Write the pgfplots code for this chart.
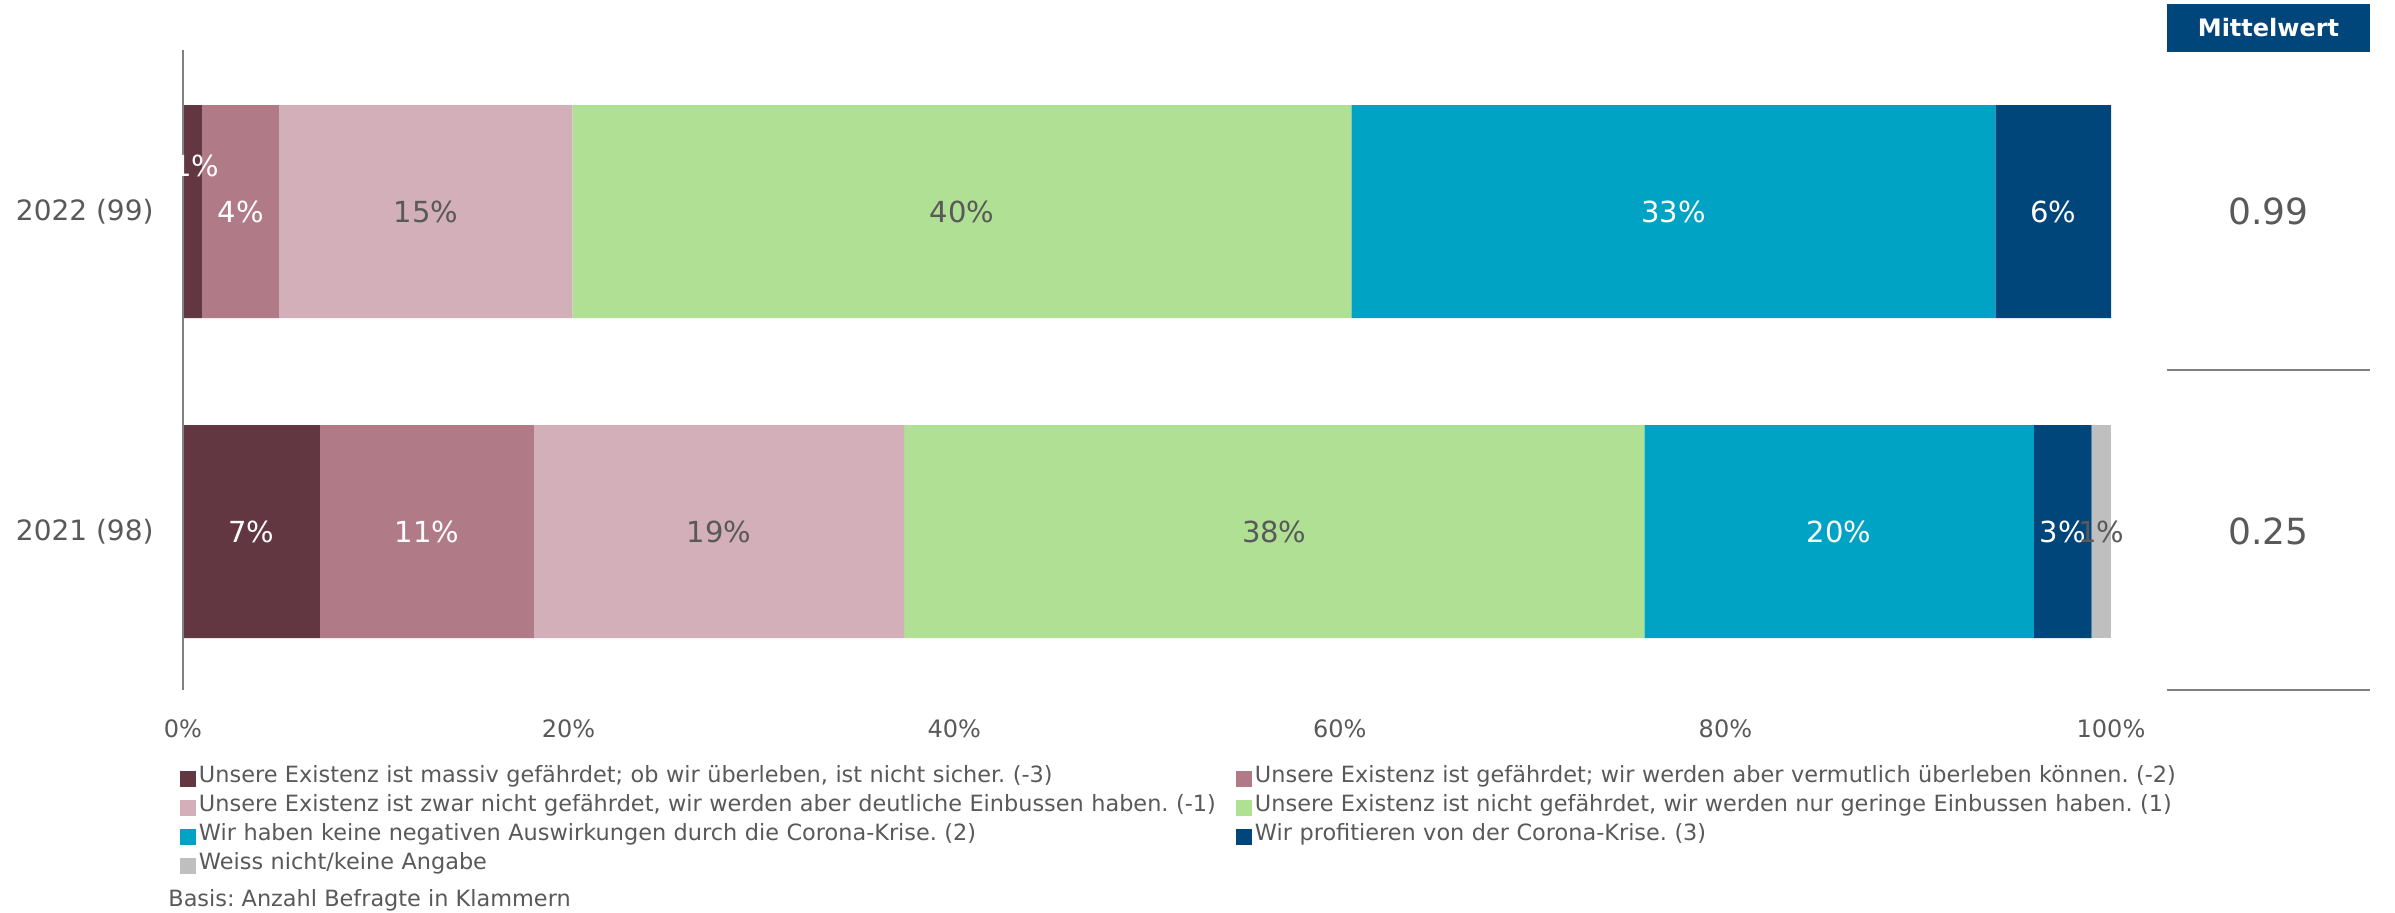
\documentclass[border=0pt]{standalone}
\usepackage{pgfplots}
\pgfplotsset{compat=1.18}
\usepackage{fontspec}
\setmainfont{DejaVu Sans}
\frenchspacing
\definecolor{c1}{HTML}{633742}
\definecolor{c2}{HTML}{B07B87}
\definecolor{c3}{HTML}{D3AFB9}
\definecolor{c4}{HTML}{B0E093}
\definecolor{c5}{HTML}{00A3C4}
\definecolor{c6}{HTML}{00467B}
\definecolor{c7}{HTML}{BFBFBF}
\definecolor{tg}{HTML}{595959}
\definecolor{ax}{HTML}{808080}
\newcommand\lbl{\fontsize{14.5}{16}\selectfont}
\begin{document}
\begin{tikzpicture}
\useasboundingbox (-91.5pt,-111.5pt) rectangle (1106pt,345pt);
\begin{axis}[
  scale only axis, width=964pt, height=320pt,
  xbar stacked, bar width=106.5pt,
  xmin=0, xmax=100, ymin=-0.495, ymax=1.505,
  separate axis lines,
  axis x line*=bottom, axis y line*=left,
  x axis line style={draw=none},
  y axis line style={draw=ax, line width=1pt},
  major tick length=0pt,
  ytick={0,1}, yticklabels={2021 (98),2022 (99)},
  xtick={0,20,40,60,80,100}, xticklabels={0\%,20\%,40\%,60\%,80\%,100\%},
  yticklabel style={anchor=east, inner sep=0pt, xshift=-14.5pt, font=\fontsize{14}{16}\selectfont, text=tg},
  xticklabel style={anchor=center, inner sep=0pt, yshift=-19.5pt, font=\fontsize{12}{14}\selectfont, text=tg},
  legend columns=2,
  legend cell align=left,
  legend style={draw=none, fill=none, at={(0,0)}, anchor=north west, xshift=-1.5pt, yshift=-37.25pt, inner sep=0pt, outer sep=0pt, column sep=0pt, row sep=0pt, font=\fontsize{11.2}{13}\selectfont, text=tg, nodes={inner xsep=1.5pt, inner ysep=0pt, text height=9pt, text depth=5.5pt, text width=517pt, align=left}},
  every axis plot post/.append style={/pgfplots/legend image code/.code={\fill[##1] (0pt,-4pt) rectangle (8pt,4pt);}},
]
\addplot[fill=c1, draw=none] coordinates {(7.1,0) (1.0,1)};
\addlegendentry{\mbox{Unsere Existenz ist massiv gefährdet; ob wir überleben, ist nicht sicher. (-3)}}
\addplot[fill=c2, draw=none] coordinates {(11.1,0) (4.0,1)};
\addlegendentry{\mbox{Unsere Existenz ist gefährdet; wir werden aber vermutlich überleben können. (-2)}}
\addplot[fill=c3, draw=none] coordinates {(19.2,0) (15.2,1)};
\addlegendentry{\mbox{Unsere Existenz ist zwar nicht gefährdet, wir werden aber deutliche Einbussen haben. (-1)}}
\addplot[fill=c4, draw=none] coordinates {(38.4,0) (40.4,1)};
\addlegendentry{\mbox{Unsere Existenz ist nicht gefährdet, wir werden nur geringe Einbussen haben. (1)}}
\addplot[fill=c5, draw=none] coordinates {(20.2,0) (33.4,1)};
\addlegendentry{\mbox{Wir haben keine negativen Auswirkungen durch die Corona-Krise. (2)}}
\addplot[fill=c6, draw=none] coordinates {(3.0,0) (6.0,1)};
\addlegendentry{\mbox{Wir profitieren von der Corona-Krise. (3)}}
\addplot[fill=c7, draw=none] coordinates {(1.0,0) (0,1)};
\addlegendentry{\mbox{Weiss nicht/keine Angabe}}
\end{axis}
\begin{axis}[
  scale only axis, width=964pt, height=320pt,
  xmin=0, xmax=100, ymin=-0.495, ymax=1.505, hide axis, clip=false]
\addplot[draw=none, nodes near coords, point meta=explicit symbolic,
  every node near coord/.append style={anchor=center, text=white, font=\lbl}]
  coordinates {(0.7,1.143) [1\%] (3.0,1) [4\%] (77.3,1) [33\%] (97.0,1) [6\%]
               (3.55,0) [7\%] (12.65,0) [11\%] (85.9,0) [20\%] (97.5,0) [3\%]};
\addplot[draw=none, nodes near coords, point meta=explicit symbolic,
  every node near coord/.append style={anchor=center, text=tg, font=\lbl}]
  coordinates {(12.6,1) [15\%] (40.4,1) [40\%] (27.8,0) [19\%] (56.6,0) [38\%] (99.5,0) [1\%]};
\draw[ax, line width=1pt] (axis cs:0,-0.495) -- (axis cs:0,1.505);
\node[fill=c6, text=white, font=\bfseries\fontsize{12}{14}\selectfont, minimum width=101.5pt, minimum height=24pt, inner sep=0pt] at (axis cs:108.17,1.574) {Mittelwert};
\node[text=tg, font=\fontsize{18}{20}\selectfont] at (axis cs:108.17,1) {0.99};
\node[text=tg, font=\fontsize{18}{20}\selectfont] at (axis cs:108.17,0) {0.25};
\draw[ax, line width=1pt] (axis cs:102.9,0.505) -- (axis cs:113.43,0.505);
\draw[ax, line width=1pt] (axis cs:102.9,-0.495) -- (axis cs:113.43,-0.495);
\end{axis}
\node[anchor=west, text=tg, font=\fontsize{11.2}{13}\selectfont, inner sep=0pt] at (-7.5pt,-105pt) {Basis: Anzahl Befragte in Klammern};
\end{tikzpicture}
\end{document}
